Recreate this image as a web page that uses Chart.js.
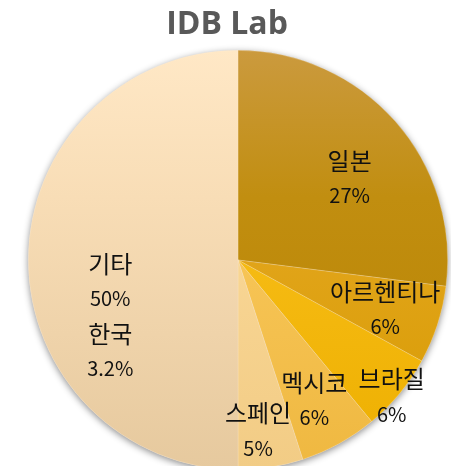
<!DOCTYPE html>
<html>
<head>
<meta charset="utf-8">
<script src="https://cdn.jsdelivr.net/npm/chart.js@4"></script>
<style>
html,body{margin:0;padding:0;background:#fff;overflow:hidden;}
#wrap{position:relative;width:451px;height:480px;}
</style>
</head>
<body>
<div id="wrap"><canvas id="c"></canvas></div>
<script>
// ---- data ----
const chartTitle = 'IDB Lab';
const categories = ['일본', '아르헨티나', '브라질', '멕시코', '스페인', '기타'];
const shares = [27, 6, 6, 6, 5, 50];           // percent
const noteCategory = '한국';                    // extra note shown inside 기타 slice
const noteShare = 3.2;                          // percent
const noteSliceIndex = 5;

// ---- styles ----
const gradTop =    ['#CB9A3E', '#F0B63E', '#FFCC4A', '#FFDA85', '#FFE6B4', '#FFE8C6'];
const gradMid =    ['#C18E10', '#E4A720', '#F8BE18', '#F9C85C', '#FAD898', '#F8DDB6'];
const gradBottom = ['#B88300', '#D69A00', '#EDAF00', '#EFB840', '#F2CC85', '#E6C99E'];
const labelAngleShift = [5.2, 0.4, 2.0, 0.2, 2.3, -23.8]; // degrees
const labelRadiusFrac = [0.66, 0.74, 0.98, 0.76, 0.82, 0.666];
const LINE_GAP = 35;
const FONT = '"Noto Sans CJK KR", "Noto Sans", sans-serif';

const shadowPlugin = {
  id: 'pieShadow',
  beforeDatasetsDraw(chart) {
    const arc = chart.getDatasetMeta(0).data[0];
    if (!arc) return;
    const {x, y, outerRadius} = arc.getProps(['x', 'y', 'outerRadius'], true);
    const ctx = chart.ctx;
    ctx.save();
    ctx.shadowColor = 'rgba(0,0,0,0.45)';
    ctx.shadowBlur = 7;
    ctx.shadowOffsetX = 0;
    ctx.shadowOffsetY = 2;
    ctx.beginPath();
    ctx.arc(x, y, outerRadius, 0, Math.PI * 2);
    ctx.fillStyle = '#ddd';
    ctx.fill();
    ctx.restore();
  }
};

const labelPlugin = {
  id: 'sliceLabels',
  afterDatasetsDraw(chart) {
    const ctx = chart.ctx;
    const meta = chart.getDatasetMeta(0);
    ctx.save();
    ctx.fillStyle = '#111';
    ctx.textAlign = 'center';
    ctx.textBaseline = 'middle';
    meta.data.forEach((arc, i) => {
      const p = arc.getProps(['x', 'y', 'startAngle', 'endAngle', 'outerRadius'], true);
      const mid = (p.startAngle + p.endAngle) / 2 + labelAngleShift[i] * Math.PI / 180;
      const r = p.outerRadius * labelRadiusFrac[i];
      const cx = p.x + Math.cos(mid) * r;
      const cy = p.y + Math.sin(mid) * r;
      const lines = [categories[i], shares[i] + '%'];
      if (i === noteSliceIndex) lines.push(noteCategory, noteShare + '%');
      const start = cy - (lines.length - 1) * LINE_GAP / 2;
      lines.forEach((t, k) => {
        ctx.font = (k % 2 === 0 ? '24px ' : '20px ') + FONT;
        ctx.fillText(t, cx, start + k * LINE_GAP);
      });
    });
    ctx.restore();
  }
};

const titlePlugin = {
  id: 'topTitle',
  afterDraw(chart) {
    const ctx = chart.ctx;
    ctx.save();
    ctx.font = 'bold 32px "Open Sans", sans-serif';
    ctx.fillStyle = '#595959';
    ctx.textAlign = 'center';
    ctx.textBaseline = 'middle';
    ctx.fillText(chartTitle, 227, 25);
    ctx.restore();
  }
};

function sliceFill(ctx) {
  const chart = ctx.chart;
  const i = ctx.dataIndex;
  const area = chart.chartArea;
  if (!area) return gradTop[i];
  const g = chart.ctx.createLinearGradient(0, area.top, 0, area.bottom);
  g.addColorStop(0, gradTop[i]);
  g.addColorStop(0.35, gradMid[i]);
  g.addColorStop(1, gradBottom[i]);
  return g;
}

new Chart(document.getElementById('c'), {
  type: 'pie',
  data: {
    labels: categories,
    datasets: [{
      data: shares,
      backgroundColor: sliceFill,
      borderColor: 'rgba(255,240,215,0.4)',
      borderWidth: 0.6
    }]
  },
  options: {
    responsive: true,
    maintainAspectRatio: false,
    animation: false,
    layout: { padding: { top: 50, left: 28, right: 3, bottom: 10 } },
    plugins: {
      legend: { display: false },
      tooltip: { enabled: false },
      title: { display: false }
    }
  },
  plugins: [shadowPlugin, labelPlugin, titlePlugin]
});
</script>
</body>
</html>
